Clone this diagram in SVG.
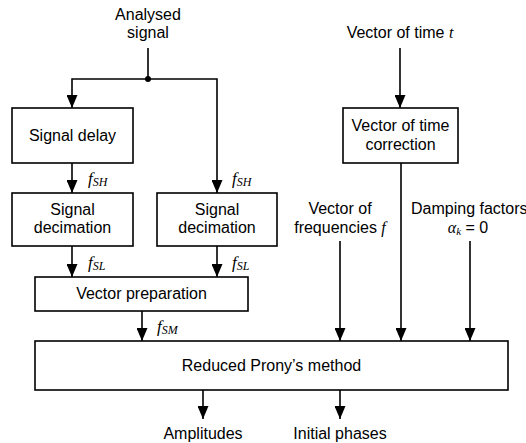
<svg xmlns="http://www.w3.org/2000/svg" width="526" height="443" viewBox="0 0 526 443">
<style>
.box{fill:#fff;stroke:#000;stroke-width:1.6}
.ln{fill:none;stroke:#000;stroke-width:1.6}
.arr{marker-end:url(#ah)}
.t{font-family:"Liberation Sans",Arial,sans-serif;font-size:16px;fill:#000;text-anchor:middle}
.it{font-family:"Liberation Serif","Times New Roman",serif;font-style:italic;fill:#000}
.f{font-size:17px}
.sub{font-size:12px}
</style>
<defs>
<marker id="ah" markerUnits="userSpaceOnUse" markerWidth="13" markerHeight="11" refX="13" refY="5.5" orient="auto" viewBox="0 0 13 11">
<path d="M0,0 L13,5.5 L0,11 z" fill="#000"/>
</marker>
</defs>
<rect width="526" height="443" fill="#fff"/>
<g id="connectors">
<path class="ln" d="M148,48 V79"/>
<path class="ln arr" d="M148,79 H72 V108"/>
<path class="ln arr" d="M148,79 H217 V193"/>
<circle cx="148" cy="79" r="3" fill="#000"/>
<path class="ln arr" d="M72,163 V193"/>
<path class="ln arr" d="M72,246 V277"/>
<path class="ln arr" d="M217,246 V277"/>
<path class="ln arr" d="M142,311 V341"/>
<path class="ln arr" d="M400,48 V108"/>
<path class="ln arr" d="M401,163 V341"/>
<path class="ln arr" d="M340,241 V341"/>
<path class="ln arr" d="M470,241 V341"/>
<path class="ln arr" d="M203,390 V419"/>
<path class="ln arr" d="M340,390 V419"/>
</g>
<g id="labels">
<text class="t" x="148" y="20">Analysed</text>
<text class="t" x="148" y="38">signal</text>
<text class="t" x="400" y="38">Vector of time <tspan class="it">t</tspan></text>
<text class="it" x="88" y="184"><tspan class="f">f</tspan><tspan class="sub" dy="2">SH</tspan></text>
<text class="it" x="232" y="184"><tspan class="f">f</tspan><tspan class="sub" dy="2">SH</tspan></text>
<text class="it" x="88" y="268"><tspan class="f">f</tspan><tspan class="sub" dy="2">SL</tspan></text>
<text class="it" x="232" y="268"><tspan class="f">f</tspan><tspan class="sub" dy="2">SL</tspan></text>
<text class="it" x="157" y="332"><tspan class="f">f</tspan><tspan class="sub" dy="2">SM</tspan></text>
<text class="t" x="340" y="214">Vector of</text>
<text class="t" x="340" y="233">frequencies <tspan class="it">f</tspan></text>
<text class="t" x="411" y="214" style="text-anchor:start">Damping factors</text>
<text class="t" x="468" y="233"><tspan class="it">α</tspan><tspan class="it" font-size="11" dy="2">k</tspan><tspan dy="-2"> = 0</tspan></text>
<text class="t" x="203" y="439">Amplitudes</text>
<text class="t" x="340" y="439">Initial phases</text>
</g>
<g id="signal-delay">
<rect class="box" x="12" y="108" width="121" height="55"/>
<text class="t" x="72.5" y="141">Signal delay</text>
</g>
<g id="signal-decimation-1">
<rect class="box" x="12" y="193" width="121" height="53"/>
<text class="t" x="72.5" y="215">Signal</text>
<text class="t" x="72.5" y="233">decimation</text>
</g>
<g id="signal-decimation-2">
<rect class="box" x="157" y="193" width="120" height="53"/>
<text class="t" x="217" y="215">Signal</text>
<text class="t" x="217" y="233">decimation</text>
</g>
<g id="vector-time-correction">
<rect class="box" x="343" y="108" width="115" height="55"/>
<text class="t" x="400.5" y="131">Vector of time</text>
<text class="t" x="400.5" y="150">correction</text>
</g>
<g id="vector-preparation">
<rect class="box" x="35" y="277" width="213" height="34"/>
<text class="t" x="141.5" y="299">Vector preparation</text>
</g>
<g id="reduced-prony">
<rect class="box" x="35" y="341" width="473" height="49"/>
<text class="t" x="271.5" y="371">Reduced Prony’s method</text>
</g>
</svg>
